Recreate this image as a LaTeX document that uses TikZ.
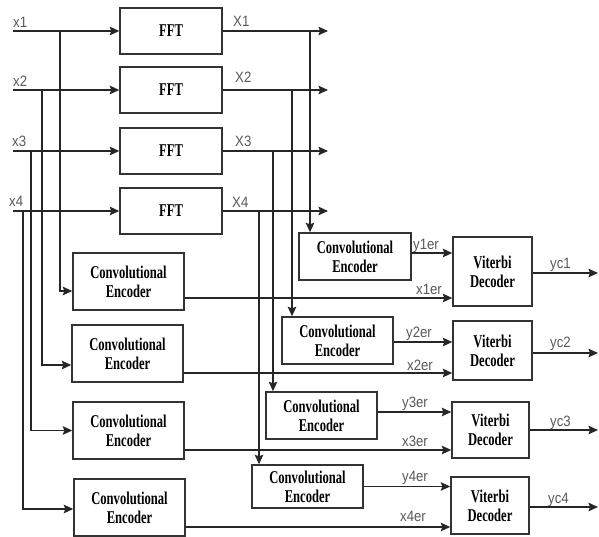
\documentclass[tikz,border=0pt]{standalone}
\usepackage{fontspec}
\setmainfont{Liberation Serif}
\newfontfamily\boxfont[FakeStretch=0.7]{Liberation Serif}
\newfontfamily\lblfont[FakeStretch=0.88]{Liberation Sans}
\usetikzlibrary{arrows.meta}
\begin{document}
\begin{tikzpicture}[x=1pt,y=-1pt,
  wire/.style={line width=1.4pt, draw=black!85},
  arr/.style={wire, -{Stealth[length=9.5pt,width=8.5pt,inset=1.5pt]}},
  blk/.style={draw=black!80, line width=1.4pt, inner sep=0pt, align=center, fill=white,
    font=\boxfont\bfseries\fontsize{18}{19}\selectfont},
  lbl/.style={anchor=base west, inner sep=0pt, text=black!65,
    font=\lblfont\fontsize{15}{16}\selectfont}]
\useasboundingbox[fill=white] (0,0) rectangle (599,537);

% FFT blocks
\node[blk, minimum width=102pt, minimum height=46pt] (fft1) at (171,31) {FFT};
\node[blk, minimum width=102pt, minimum height=46pt] (fft2) at (171,90) {FFT};
\node[blk, minimum width=102pt, minimum height=46pt] (fft3) at (171,151) {FFT};
\node[blk, minimum width=102pt, minimum height=46pt] (fft4) at (171,211) {FFT};

% left convolutional encoders
\node[blk, minimum width=111pt, minimum height=57pt] (lce1) at (128.5,281.5) {Convolutional\\Encoder};
\node[blk, minimum width=111pt, minimum height=57pt] (lce2) at (127.5,353.5) {Convolutional\\Encoder};
\node[blk, minimum width=111pt, minimum height=57pt] (lce3) at (128.5,430.5) {Convolutional\\Encoder};
\node[blk, minimum width=111pt, minimum height=57pt] (lce4) at (129.5,507.5) {Convolutional\\Encoder};

% right convolutional encoders
\node[blk, minimum width=112pt, minimum height=47pt] (rce1) at (355,256.5) {Convolutional\\Encoder};
\node[blk, minimum width=111pt, minimum height=47pt] (rce2) at (337.5,340.5) {Convolutional\\Encoder};
\node[blk, minimum width=111pt, minimum height=47pt] (rce3) at (321.5,415.5) {Convolutional\\Encoder};
\node[blk, minimum width=111pt, minimum height=43pt] (rce4) at (307.5,486.5) {Convolutional\\Encoder};

% Viterbi decoders
\node[blk, minimum width=79pt, minimum height=69pt] (v1) at (492.5,271.5) {Viterbi\\Decoder};
\node[blk, minimum width=79pt, minimum height=59pt] (v2) at (492.5,350.5) {Viterbi\\Decoder};
\node[blk, minimum width=77pt, minimum height=56pt] (v3) at (490.5,430) {Viterbi\\Decoder};
\node[blk, minimum width=78pt, minimum height=57pt] (v4) at (490,505.5) {Viterbi\\Decoder};

% input / output coordinates
\coordinate (in1) at (13,31);
\coordinate (in2) at (13,90);
\coordinate (in3) at (13,151);
\coordinate (in4) at (13,211);
\coordinate (out1) at (328,31);
\coordinate (out2) at (328,90);
\coordinate (out3) at (328,151);
\coordinate (out4) at (328,211);
\coordinate (t1) at (60,31);
\coordinate (t2) at (42,90);
\coordinate (t3) at (31,151);
\coordinate (t4) at (23,211);
\coordinate (u1) at (310,31);
\coordinate (u2) at (292,90);
\coordinate (u3) at (273,151);
\coordinate (u4) at (259,211);
\coordinate (yc1e) at (598,273);
\coordinate (yc2e) at (598,353);
\coordinate (yc3e) at (598,430);
\coordinate (yc4e) at (598,507);

% inputs to FFT
\draw[arr] (in1) -- (fft1.west);
\draw[arr] (in2) -- (fft2.west);
\draw[arr] (in3) -- (fft3.west);
\draw[arr] (in4) -- (fft4.west);
% FFT outputs
\draw[arr] (fft1.east) -- (out1);
\draw[arr] (fft2.east) -- (out2);
\draw[arr] (fft3.east) -- (out3);
\draw[arr] (fft4.east) -- (out4);

% input taps to left encoders
\draw[arr] (t1) |- ([yshift=-9.5pt]lce1.west);
\draw[arr] (t2) |- ([yshift=-11.5pt]lce2.west);
\draw[arr] (t3) |- (lce3.west);
\draw[arr] (t4) |- ([yshift=-1.5pt]lce4.west);

% output taps to right encoders
\draw[arr] (u1) -- (u1 |- rce1.north);
\draw[arr] (u2) -- (u2 |- rce2.north);
\draw[arr] (u3) -- (u3 |- rce3.north);
\draw[arr] (u4) -- (u4 |- rce4.north);

% left encoders to decoders
\draw[arr] ([yshift=-16.5pt]lce1.east) coordinate (a1) -- (a1 -| v1.west);
\draw[arr] ([yshift=-19.5pt]lce2.east) coordinate (a2) -- (a2 -| v2.west);
\draw[arr] ([yshift=-19.5pt]lce3.east) coordinate (a3) -- (a3 -| v3.west);
\draw[arr] ([yshift=-19.5pt]lce4.east) coordinate (a4) -- (a4 -| v4.west);

% right encoders to decoders
\draw[arr] ([yshift=3.5pt]rce1.east) coordinate (b1) -- (b1 -| v1.west);
\draw[arr] ([yshift=-1.5pt]rce2.east) coordinate (b2) -- (b2 -| v2.west);
\draw[arr] ([yshift=3.5pt]rce3.east) coordinate (b3) -- (b3 -| v3.west);
\draw[arr] (rce4.east) coordinate (b4) -- (b4 -| v4.west);

% decoder outputs
\draw[arr] (v1.east |- yc1e) -- (yc1e);
\draw[arr] (v2.east |- yc2e) -- (yc2e);
\draw[arr] (v3.east |- yc3e) -- (yc3e);
\draw[arr] (v4.east |- yc4e) -- (yc4e);

% labels
\node[lbl] (lx1) at (13,28) {x1};
\node[lbl] (lx2) at (13,87) {x2};
\node[lbl] (lx3) at (12,147) {x3};
\node[lbl] (lx4) at (9,207) {x4};
\node[lbl] (lX1) at (233,27) {X1};
\node[lbl] (lX2) at (235,83) {X2};
\node[lbl] (lX3) at (235,147) {X3};
\node[lbl] (lX4) at (232,208) {X4};
\node[lbl] (ly1) at (413,249) {y1er};
\node[lbl] (lxe1) at (416,294) {x1er};
\node[lbl] (lyc1) at (550,268) {yc1};
\node[lbl] (ly2) at (406,337) {y2er};
\node[lbl] (lxe2) at (407,370) {x2er};
\node[lbl] (lyc2) at (550,347) {yc2};
\node[lbl] (ly3) at (402,407) {y3er};
\node[lbl] (lxe3) at (402,446) {x3er};
\node[lbl] (lyc3) at (550,426) {yc3};
\node[lbl] (ly4) at (402,481) {y4er};
\node[lbl] (lxe4) at (400,521) {x4er};
\node[lbl] (lyc4) at (548,503) {yc4};
\end{tikzpicture}
\end{document}
